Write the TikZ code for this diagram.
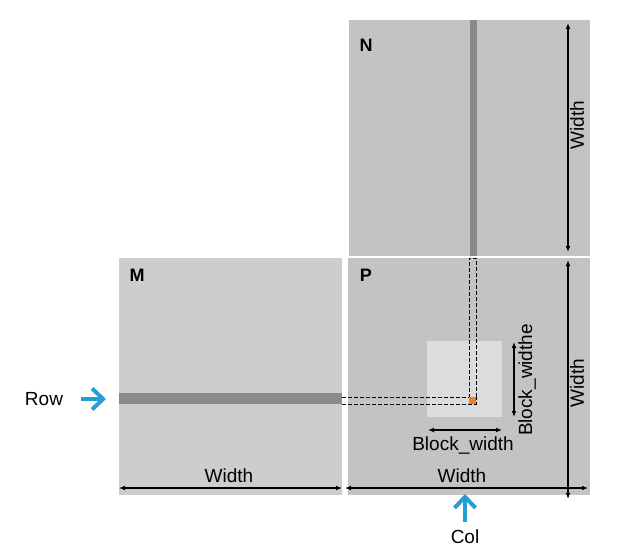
\documentclass[tikz,border=0pt]{standalone}
\usepackage{fontspec}
\setmainfont{Liberation Sans}
\usetikzlibrary{arrows.meta}
\definecolor{MatLight}{RGB}{204,205,204}
\definecolor{MatGray}{RGB}{195,195,195}
\definecolor{BlockGray}{RGB}{220,221,220}
\definecolor{StripeGray}{RGB}{138,138,138}
\definecolor{PointOrange}{RGB}{240,127,34}
\definecolor{PointerBlue}{RGB}{38,157,212}

\begin{document}
\begin{tikzpicture}[
    x=0.5pt,
    y=-0.5pt,
    mat/.style={
        rectangle,
        inner sep=0pt,
        outer sep=0pt,
        draw=none
    },
    tag/.style={
        font=\bfseries\fontsize{9}{10}\selectfont
    },
    lbl/.style={
        inner sep=1pt,
        font=\fontsize{9.5}{11}\selectfont
    },
    dim/.style={
        {Latex[length=3pt,width=2.4pt]}-{Latex[length=3pt,width=2.4pt]},
        line width=0.65pt
    },
    trace/.style={
        line width=0.5pt,
        dash pattern=on 2pt off 1pt
    },
    pointer/.style={
        -{Straight Barb[length=5.5pt,width=10.5pt]},
        line width=2pt,
        draw=PointerBlue
    }
]

\useasboundingbox (0,0) rectangle (643,556);

\node[mat, fill=MatGray, minimum width=120.5pt, minimum height=118pt] (N) at (469.5,138) {};
\node[mat, fill=MatGray, minimum width=121pt, minimum height=118.5pt] (P) at (469,376.5) {};
\node[mat, fill=MatLight, minimum width=111.5pt, minimum height=118.5pt] (M) at (230.5,376.5) {};

\node[mat, fill=StripeGray, minimum width=3.5pt, minimum height=118pt] (colstripe) at (473.5,138) {};
\node[mat, fill=StripeGray, minimum width=111.5pt, minimum height=5.5pt] (rowstripe) at (230.5,398.5) {};
\node[mat, fill=BlockGray, minimum width=37.5pt, minimum height=38pt] (block) at (464.5,379) {};
\node[mat, minimum width=3.5pt, minimum height=3.5pt] (elem) at (472.5,400.5) {};

\node[tag] (nameN) at (366,45) {N};
\node[tag] (nameM) at (137,275) {M};
\node[tag] (nameP) at (366,275) {P};


\draw[trace]
    (elem.north west -| M.east)
    -- (elem.north west)
    -- (elem.north west |- P.north)
    -- (elem.north east |- P.north)
    -- (elem.north east);
\draw[trace]
    (elem.south west -| M.east)
    -- (elem.south east)
    -- (elem.north east);

\fill[PointOrange] (elem.south west) rectangle (elem.north east);


\draw[dim] ([yshift=3.5pt]M.south west) -- ([yshift=3.5pt]M.south east);
\draw[dim] ([shift={(-1.5pt,3.5pt)}]P.south west) -- ([shift={(-1pt,3.5pt)}]P.south east);
\draw[dim] ([shift={(-11pt,-1.5pt)}]N.north east) -- ([shift={(-11pt,2pt)}]N.south east);
\draw[dim] ([shift={(-11pt,-1pt)}]P.north east) -- ([shift={(-11pt,-2pt)}]P.south east);
\draw[dim] ([shift={(0.5pt,-6.5pt)}]block.south west) -- ([yshift=-6.5pt]block.south east);
\draw[dim] ([shift={(6pt,-0.5pt)}]block.north east) -- ([xshift=6pt]block.south east);


\node[lbl] (widthM) at (229,476) {Width};
\node[lbl] (widthP) at (462,476) {Width};
\node[lbl, rotate=90] (widthN) at (577,125) {Width};
\node[lbl, rotate=90] (widthPv) at (577,383) {Width};
\node[lbl] (blockw) at (463,446) {Block\_width};
\node[lbl, rotate=90] (blockh) at (527,380) {Block\_widthe};


\node[lbl] (row) at (44,399) {Row};
\node[lbl] (col) at (465,537) {Col};

\draw[pointer] ([xshift=8pt]row.east) -- ([xshift=-6.5pt]rowstripe.west |- row.east);
\draw[pointer] ([yshift=3pt]col.north) -- ([yshift=0.5pt]col.north |- P.south);

\end{tikzpicture}
\end{document}
